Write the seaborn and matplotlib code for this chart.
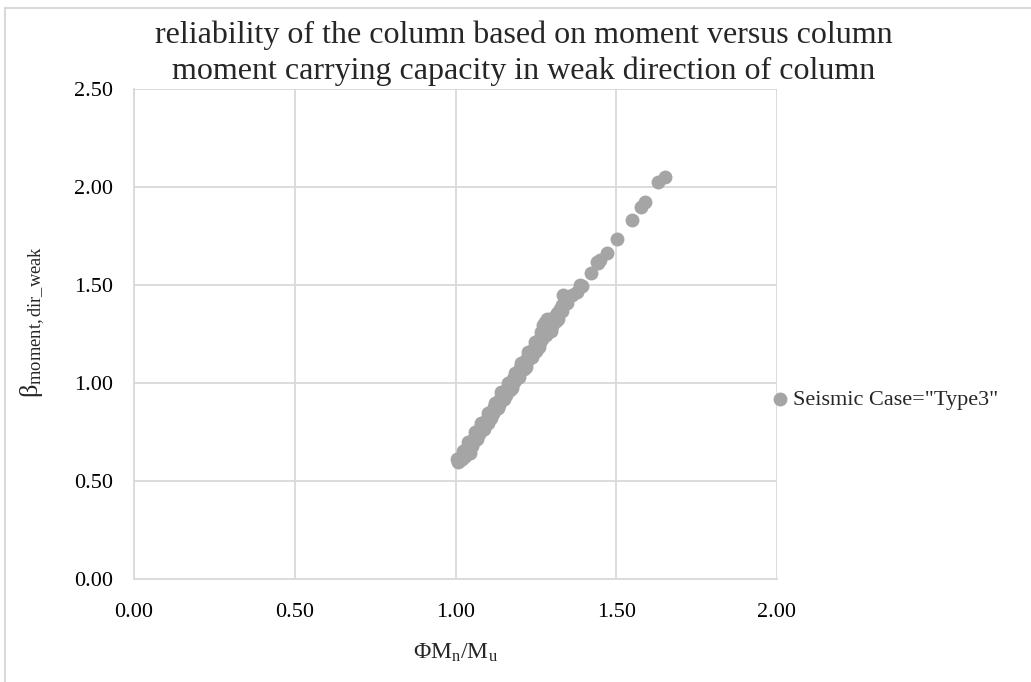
import matplotlib
matplotlib.use("Agg")
import matplotlib.pyplot as plt
import seaborn as sns
import pandas as pd
from matplotlib.lines import Line2D

# Capacity ratio (phi*Mn/Mu) and reliability index in the weak direction
ratio = [
    1.008, 1.016, 1.024, 1.030, 1.036, 1.044, 1.048, 1.057, 1.065, 1.069,
    1.077, 1.085, 1.089, 1.097, 1.105, 1.113, 1.121, 1.129, 1.138, 1.146,
    1.154, 1.162, 1.170, 1.178, 1.186, 1.194, 1.202, 1.210, 1.218, 1.226,
    1.235, 1.243, 1.251, 1.259, 1.267, 1.275, 1.283, 1.291, 1.299, 1.307,
    1.316, 1.324, 1.332,
    1.020, 1.045, 1.040, 1.060, 1.082, 1.100, 1.118, 1.135, 1.158, 1.166,
    1.182, 1.198, 1.214, 1.230, 1.242, 1.255, 1.270, 1.273, 1.278, 1.285,
    1.030, 1.072, 1.094, 1.126, 1.150, 1.190, 1.222, 1.262, 1.296, 1.318,
    1.012, 1.028, 1.052, 1.068, 1.090, 1.110, 1.132, 1.150, 1.175, 1.196,
    1.214, 1.238, 1.260, 1.282, 1.300, 1.312,
    1.004, 1.022, 1.038, 1.061, 1.080, 1.101, 1.122, 1.143, 1.162, 1.184,
    1.205, 1.226, 1.247, 1.266, 1.288,
    1.050, 1.073, 1.093, 1.116, 1.141, 1.168, 1.191, 1.219, 1.250,
    1.330, 1.335, 1.346, 1.361, 1.377, 1.387, 1.392,
    1.420, 1.439, 1.444, 1.451, 1.470, 1.503, 1.548, 1.576, 1.590, 1.631, 1.652,
]
beta = [
    0.600, 0.620, 0.640, 0.650, 0.670, 0.690, 0.700, 0.720, 0.740, 0.750,
    0.770, 0.790, 0.800, 0.820, 0.840, 0.860, 0.880, 0.900, 0.920, 0.940,
    0.960, 0.980, 1.000, 1.020, 1.040, 1.060, 1.080, 1.100, 1.120, 1.140,
    1.160, 1.180, 1.200, 1.220, 1.240, 1.260, 1.280, 1.300, 1.320, 1.340,
    1.360, 1.380, 1.400,
    0.612, 0.643, 0.680, 0.710, 0.762, 0.800, 0.846, 0.888, 0.940, 0.972,
    1.005, 1.046, 1.082, 1.126, 1.160, 1.196, 1.228, 1.297, 1.314, 1.330,
    0.630, 0.740, 0.790, 0.870, 0.925, 1.028, 1.120, 1.210, 1.268, 1.330,
    0.603, 0.628, 0.680, 0.718, 0.768, 0.822, 0.872, 0.918, 0.975, 1.030,
    1.072, 1.135, 1.185, 1.245, 1.290, 1.316,
    0.612, 0.655, 0.700, 0.752, 0.800, 0.850, 0.902, 0.955, 1.000, 1.052,
    1.105, 1.160, 1.212, 1.262, 1.312,
    0.695, 0.745, 0.795, 0.848, 0.910, 0.965, 1.025, 1.085, 1.165,
    1.370, 1.450, 1.408, 1.450, 1.467, 1.502, 1.496,
    1.561, 1.620, 1.615, 1.630, 1.665, 1.738, 1.833, 1.900, 1.925, 2.029, 2.054,
]
series_label = 'Seismic Case="Type3"'

title_lines = ["reliability of the column based on moment versus column",
               "moment carrying capacity in weak direction of column"]
x_ticks = [0.0, 0.5, 1.0, 1.5, 2.0]
y_ticks = [0.0, 0.5, 1.0, 1.5, 2.0, 2.5]

df = pd.DataFrame({"ratio": ratio, "beta": beta})

sns.set_style("white")
plt.rcParams["font.family"] = ["Liberation Serif", "DejaVu Serif"]
plt.rcParams["mathtext.fontset"] = "custom"
plt.rcParams["mathtext.rm"] = "Liberation Serif"
plt.rcParams["mathtext.it"] = "Liberation Serif:italic"

W, H = 1031, 682
fig = plt.figure(figsize=(W / 100, H / 100), dpi=100)
ax = fig.add_axes([134 / W, 1 - 579.3 / H, (777 - 134) / W, (579.3 - 89.3) / H])

grid_c = "#D9D9D9"
sns.scatterplot(data=df, x="ratio", y="beta", ax=ax, color="#A5A5A5", s=100,
                linewidth=0, label=series_label, zorder=3, clip_on=False)

ax.set_xlim(0, 2.0)
ax.set_ylim(0, 2.5)
ax.set_xticks(x_ticks)
ax.set_yticks(y_ticks)
ax.set_xticklabels([f"{v:.2f}" for v in x_ticks])
ax.set_yticklabels([f"{v:.2f}" for v in y_ticks])
ax.grid(True, color=grid_c, linewidth=1.3)
ax.set_axisbelow(True)
for side in ("top", "right"):
    ax.spines[side].set_visible(False)
for side in ("left", "bottom"):
    ax.spines[side].set_color(grid_c)
    ax.spines[side].set_linewidth(1.3)
ax.tick_params(axis="both", length=0, labelsize=16, colors="#000000")
ax.tick_params(axis="y", pad=15)
ax.tick_params(axis="x", pad=17)

ax.set_xlabel(r"ΦM$_\mathregular{n}$/M$_\mathregular{u}$", fontsize=17, labelpad=14)
ax.set_ylabel(r"β$_\mathregular{moment,dir\_weak}$", fontsize=19)
ax.yaxis.set_label_coords(-0.136, 0.525)

# two-line chart title, centred on the chart area
for line, base_px in zip(title_lines, (43, 79)):
    fig.text(524 / W, 1 - base_px / H, line, ha="center", va="baseline",
             fontsize=23)

ax.legend(loc="center left", bbox_to_anchor=(769 / W, 1 - 400 / H),
          bbox_transform=fig.transFigure, frameon=False, fontsize=16,
          handlelength=1.0, handletextpad=0.1, borderpad=0, borderaxespad=0)

# chart area outline
fig.add_artist(Line2D([5 / W, 1], [1 - 8 / H, 1 - 8 / H], color=grid_c,
                      linewidth=1.5, transform=fig.transFigure))
fig.add_artist(Line2D([5 / W, 5 / W], [0, 1 - 8 / H], color=grid_c,
                      linewidth=1.5, transform=fig.transFigure))

fig.savefig("out.png", dpi=100)
